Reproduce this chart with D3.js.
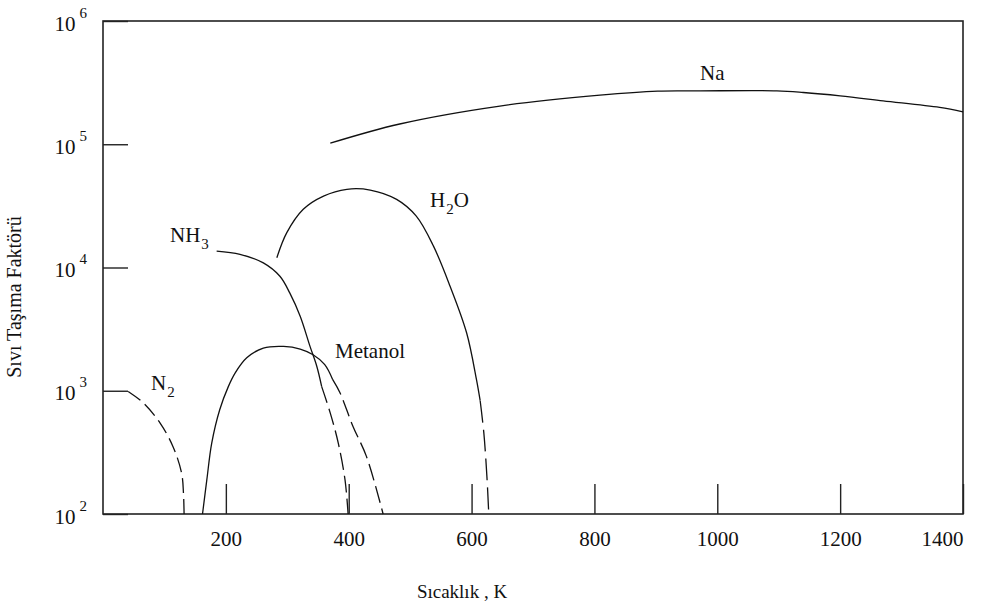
<!DOCTYPE html>
<html>
<head>
<meta charset="utf-8">
<script src="https://cdn.jsdelivr.net/npm/d3@7"></script>
<style>
  body { margin: 0; background: #fff; }
  text { font-family: "Liberation Serif", "Times New Roman", serif; fill: #111; }
</style>
</head>
<body>
<div id="chart"></div>
<script>
// values: temperature in K, factor on a log scale
var xTicks = [200, 400, 600, 800, 1000, 1200, 1400];
var yTicks = [1e2, 1e3, 1e4, 1e5, 1e6];

var naT = [370, 483, 646, 809, 903, 972, 1097, 1140, 1200, 1270, 1362, 1400];
var naV = [1.02e5, 1.46e5, 2.04e5, 2.5e5, 2.7e5, 2.71e5, 2.71e5, 2.63e5, 2.47e5, 2.25e5, 1.99e5, 1.83e5];

var h2oSolidT = [283, 299, 326, 359, 397, 435, 478, 510, 538, 565, 592, 608, 614];
var h2oSolidV = [1.2e4, 1.91e4, 2.97e4, 3.8e4, 4.31e4, 4.25e4, 3.57e4, 2.61e4, 1.49e4, 7.05e3, 2.94e3, 1.23e3, 830];
var h2oDashT = [614, 620, 625, 628];
var h2oDashV = [830, 453, 200, 100];

var nh3SolidT = [185, 223, 261, 288, 304, 321, 337, 348, 356];
var nh3SolidV = [1.36e4, 1.28e4, 1.09e4, 8.49e3, 6.22e3, 4.02e3, 2.29e3, 1.58e3, 1.08e3];
var nh3DashT = [356, 370, 383, 394, 399];
var nh3DashV = [1.08e3, 659, 376, 189, 100];

var metSolidT = [162, 169, 177, 190, 204, 215, 234, 261, 294, 321, 342, 361, 374];
var metSolidV = [100, 189, 376, 701, 1.08e3, 1.39e3, 1.85e3, 2.22e3, 2.29e3, 2.18e3, 1.96e3, 1.63e3, 1.23e3];
var metDashT = [374, 386, 407, 429, 456];
var metDashV = [1.23e3, 958, 513, 292, 100];

var n2DashT = [41, 66, 93, 114, 128, 131, 132];
var n2DashV = [987, 794, 546, 352, 214, 147, 100];

var svgWidth = 981, svgHeight = 609;
var margin = {top: 21, right: 18, bottom: 95, left: 103};
var width = svgWidth - margin.left - margin.right;
var height = svgHeight - margin.top - margin.bottom;

var svg = d3.select("#chart").append("svg")
  .attr("width", svgWidth)
  .attr("height", svgHeight);

var chartGroup = svg.append("g")
  .attr("transform", `translate(${margin.left}, ${margin.top})`);

var xScale = d3.scaleLinear().domain([0, 1400]).range([0, width]);
var yScale = d3.scaleLog().domain([1e2, 1e6]).range([height, 0]);

// frame
chartGroup.append("rect")
  .attr("width", width).attr("height", height)
  .attr("fill", "none").attr("stroke", "#222").attr("stroke-width", 1.6);

// bottom axis: ticks point inward
var bottomAxis = d3.axisBottom(xScale)
  .tickValues(xTicks)
  .tickSizeInner(-30).tickSizeOuter(0)
  .tickPadding(17)
  .tickFormat(d3.format("d"));

var xg = chartGroup.append("g")
  .attr("transform", `translate(0, ${height})`)
  .call(bottomAxis);
xg.select(".domain").remove();
xg.selectAll("line").attr("stroke", "#222").attr("stroke-width", 1.4);
xg.selectAll("text")
  .attr("font-size", 21)
  .attr("font-family", "Liberation Serif, serif")
  .attr("fill", "#111")
  .attr("text-anchor", function(d) { return d === 1400 ? "end" : "middle"; });

// left axis with power-of-ten labels
var leftAxis = d3.axisLeft(yScale)
  .tickValues(yTicks)
  .tickSizeInner(-25).tickSizeOuter(0)
  .tickPadding(16)
  .tickFormat("");

var yg = chartGroup.append("g").call(leftAxis);
yg.select(".domain").remove();
yg.selectAll("line").attr("stroke", "#222").attr("stroke-width", 1.4);
yg.selectAll("text")
  .attr("font-family", "Liberation Serif, serif")
  .attr("fill", "#111")
  .attr("font-size", 21)
  .attr("dy", 9)
  .each(function(d) {
    var t = d3.select(this);
    t.append("tspan").text("10");
    t.append("tspan").attr("dx", 4).attr("dy", -13).attr("font-size", 15)
      .text(Math.round(Math.log10(d)));
  });

// curves
var line = d3.line()
  .x(function(d) { return xScale(d[0]); })
  .y(function(d) { return yScale(d[1]); })
  .curve(d3.curveCatmullRom.alpha(0.5));

function drawCurve(ts, vs, dash) {
  chartGroup.append("path")
    .datum(d3.zip(ts, vs))
    .attr("d", line)
    .attr("fill", "none")
    .attr("stroke", "#111")
    .attr("stroke-width", 1.3)
    .attr("stroke-dasharray", dash || null);
}

drawCurve(naT, naV);
drawCurve(h2oSolidT, h2oSolidV);
drawCurve(h2oDashT, h2oDashV, "22,7");
drawCurve(nh3SolidT, nh3SolidV);
drawCurve(nh3DashT, nh3DashV, "17,6");
drawCurve(metSolidT, metSolidV);
drawCurve(metDashT, metDashV, "17,6");
drawCurve(n2DashT, n2DashV, "15,6");

// curve labels
function label(x, y, main, sub, tail) {
  var t = svg.append("text").attr("x", x).attr("y", y).attr("font-size", 21);
  t.append("tspan").text(main);
  if (sub) {
    t.append("tspan").attr("dx", 1).attr("dy", 7).attr("font-size", 15).text(sub);
    if (tail) t.append("tspan").attr("dy", -7).attr("font-size", 21).text(tail);
  }
}
label(700, 80, "Na");
label(430, 207, "H", "2", "O");
label(170, 242, "NH", "3");
label(335, 358, "Metanol");
label(151, 390, "N", "2");

// axis titles
svg.append("text")
  .attr("x", 462).attr("y", 598)
  .attr("text-anchor", "middle")
  .attr("font-size", 19)
  .text("Sıcaklık , K");

svg.append("text")
  .attr("transform", "translate(21, 297) rotate(-90)")
  .attr("text-anchor", "middle")
  .attr("font-size", 20)
  .text("Sıvı Taşıma Faktörü");
</script>
</body>
</html>
